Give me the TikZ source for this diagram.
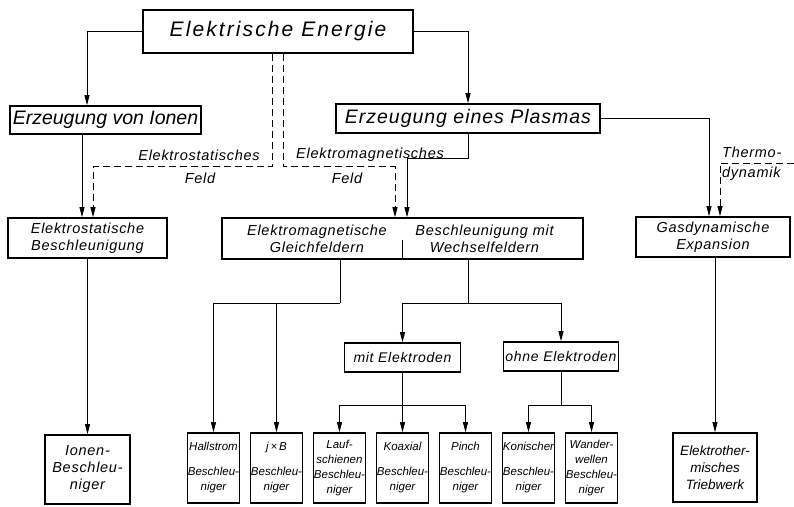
\documentclass[tikz,border=0pt]{standalone}
\usepackage{fontspec}
\setmainfont{Liberation Sans}
\newfontfamily\spacedfont{Liberation Sans}[LetterSpace=5]
\newfontfamily\widefont{Liberation Sans}[LetterSpace=10]
\usetikzlibrary{arrows.meta,positioning}

\begin{document}
\begin{tikzpicture}[x=1pt,y=-1pt,
    box/.style={draw,line width=1.6pt,inner sep=2pt,align=center,font=\fontsize{14.5}{17}\selectfont\spacedfont\itshape},
    headbox/.style={box,font=\fontsize{19.5}{22}\selectfont\itshape},
    leaf/.style={box,minimum width=52pt,minimum height=70pt,inner sep=0pt,font=\fontsize{11.5}{15}\selectfont\itshape},
    lbl/.style={inner sep=0pt,align=center,font=\fontsize{14.5}{17}\selectfont\spacedfont\itshape},
    link/.style={line width=0.8pt},
    arr/.style={link,-{Triangle[length=10pt,width=5pt]}},
    dasharr/.style={arr,dash pattern=on 7pt off 4pt}] %
    \useasboundingbox (0,0) rectangle (794,506);
    \node[headbox,minimum width=270pt,minimum height=43pt,font=\fontsize{21}{24}\selectfont\widefont\itshape] (energie) at (278,31.5) {Elektrische Energie}; %
    \node[headbox,minimum width=191pt,minimum height=28pt] (ionen) at (105.5,120) {Erzeugung von Ionen}; %
    \node[headbox,minimum width=264pt,minimum height=29pt,font=\fontsize{19.5}{22}\selectfont\spacedfont\itshape] (plasma) at (468,118.5) {Erzeugung eines Plasmas}; %
    \node[box,minimum width=159pt,minimum height=40pt] (estat) at (87.5,238) {Elektrostatische\\Beschleunigung};
    \node[box,minimum width=361pt,minimum height=41pt] (emag) at (402.5,238.5) {};
    \node[lbl] (gleich) at ([xshift=-85.5pt]emag.center) {Elektromagnetische\\Gleichfeldern};
    \node[lbl] (wechsel) at ([xshift=82pt]emag.center) {Beschleunigung mit\\Wechselfeldern};
    \node[box,minimum width=154pt,minimum height=40pt] (gasdyn) at (713,237) {Gasdynamische\\Expansion};
    \node[box,minimum width=116pt,minimum height=29pt,font=\fontsize{14}{16}\selectfont\spacedfont\itshape] (mitE) at (402.5,357.5) {mit Elektroden};
    \node[box,minimum width=112pt,minimum height=29pt,font=\fontsize{14}{16}\selectfont\spacedfont\itshape] (ohneE) at (561,356.5) {ohne Elektroden};
    % untere Reihe
    \node[leaf] (hall) at (213.5,468) {Hallstrom\\[10pt]Beschleu-\\niger};
    \node[leaf,right=9.4pt of hall] (jxb) {j\,×\,B\\[10pt]Beschleu-\\niger};
    \node[leaf,right=9.4pt of jxb] (lauf) {Lauf-\\schienen\\Beschleu-\\niger};
    \node[leaf,right=9.4pt of lauf] (koax) {Koaxial\\[10pt]Beschleu-\\niger};
    \node[leaf,right=9.4pt of koax] (pinch) {Pinch\\[10pt]Beschleu-\\niger};
    \node[leaf,right=9.4pt of pinch] (konisch) {Konischer\\[10pt]Beschleu-\\niger};
    \node[leaf,right=9.4pt of konisch] (wander) {Wander-\\wellen\\Beschleu-\\niger};
    \node[box,minimum width=85pt,minimum height=69pt] (ionbes) at (87.5,469.5) {Ionen-\\Beschleu-\\niger};
    \node[box,minimum width=84pt,minimum height=69pt,font=\fontsize{13.5}{17}\selectfont\itshape] (triebwerk) at (715,467.5) {Elektrother-\\misches\\Triebwerk};
    % Feldarten
    \node[lbl] (estatlbl) at (199,155) {Elektrostatisches};
    \node[lbl] (feldA) at (200,178) {Feld};
    \node[lbl] (emaglbl) at (370,155) {Elektromagnetisches};
    \node[lbl] (feldB) at (347,178) {Feld};
    \node[lbl,anchor=west] (thermoA) at (722,152) {Thermo-};
    \node[lbl,anchor=west] (thermoB) at (722,174) {dynamik};
    \coordinate (gj) at (340,303);
    \coordinate (wj) at (468,303);
    \coordinate (mj) at (402.5,405);
    \coordinate (oj) at (561,405);
    \coordinate (thermo) at (794,163);
    % Verbindungen
    \draw[arr] (energie.west) -| ([xshift=-18.5pt]ionen.north);
    \draw[arr] (energie.east) -| (plasma.north);
    \draw[arr] ([xshift=-23.5pt]ionen.south) -- ([xshift=-5.5pt]estat.north);
    \draw[dasharr] ([xshift=-6pt]energie.south) -- ++(0,113) -| ([xshift=5.5pt]estat.north);
    \draw[dasharr] ([xshift=5pt]energie.south) -- ++(0,113) -| ([xshift=-7.5pt]emag.north);
    \draw[arr] (plasma.south) -- ++(0,25) -| ([xshift=4.5pt]emag.north);
    \draw[arr] (plasma.east) -| ([xshift=-4pt]gasdyn.north);
    \draw[dasharr] (thermo) -| ([xshift=7pt]gasdyn.north);
    \draw[arr] (estat.south) -- (ionbes.north);
    \draw[arr] (gasdyn.south -| triebwerk.north) -- (triebwerk.north);
    \draw[line width=1.6pt] (emag.south) -- ++(0,-20);
    \draw[link] (emag.south -| gj) -- (gj);
    \draw[arr] (gj) -| (hall.north);
    \draw[arr] (gj -| jxb.north) -- (jxb.north);
    \draw[link] (emag.south -| wj) -- (wj);
    \draw[arr] (wj) -| (mitE.north);
    \draw[arr] (wj) -| (ohneE.north);
    \draw[link] (mitE.south) -- (mj);
    \draw[arr] (mj) -| (lauf.north);
    \draw[arr] (mitE.south -| koax.north) -- (koax.north);
    \draw[arr] (mj) -| (pinch.north);
    \draw[link] (ohneE.south) -- (oj);
    \draw[arr] (oj) -| (konisch.north);
    \draw[arr] (oj) -| (wander.north);
\end{tikzpicture}
\end{document}
